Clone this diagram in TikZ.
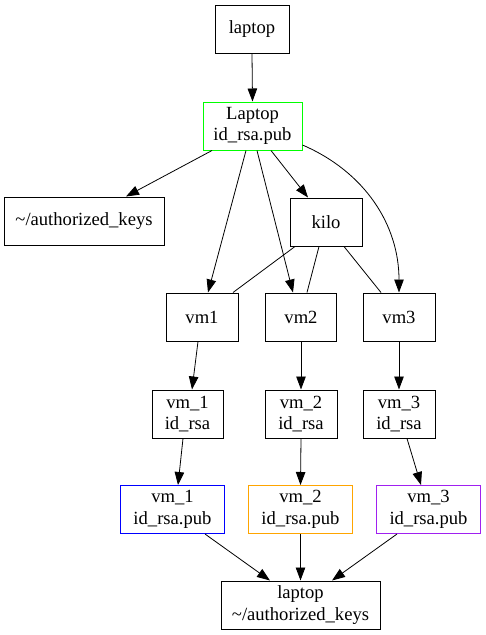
\documentclass[tikz,border=0pt]{standalone}
\usepackage{fontspec}
\setmainfont{Liberation Serif}
\definecolor{keygreen}{RGB}{0,255,0}
\definecolor{keyblue}{RGB}{0,0,255}
\definecolor{keyorange}{RGB}{255,165,0}
\definecolor{keypurple}{RGB}{160,32,240}
\usetikzlibrary{arrows.meta,calc}

\begin{document}
\begin{tikzpicture}[
  x=1pt, y=-1pt,
  >={Triangle[length=13pt,width=9.5pt]},
  line width=0.8pt,
  box/.style={draw, line width=1pt, minimum height=48pt, inner sep=0pt, align=center, font=\fontsize{18.6}{21.5}\selectfont},
  edge/.style={->, line width=0.8pt}
]
\useasboundingbox (0,0) rectangle (486,635);

\node[box, minimum width=74pt] (laptop) at (252,29) {laptop};
\node[box, draw=keygreen, minimum width=99pt] (lpub) at (252.5,126) {Laptop\\id\_rsa.pub};
\node[box, minimum width=160pt] (akeys) at (84,221) {\textasciitilde/authorized\_keys};
\node[box, minimum width=72pt] (kilo) at (326,222) {kilo};

\node[box, minimum width=72pt] (vm1) at (202,317) {vm1};
\node[box, minimum width=71pt] (vm2) at (301,317) {vm2};
\node[box, minimum width=72pt] (vm3) at (399,317) {vm3};

\node[box, minimum width=71pt] (vm1key) at (187.5,414) {vm\_1\\id\_rsa};
\node[box, minimum width=72pt] (vm2key) at (301,414) {vm\_2\\id\_rsa};
\node[box, minimum width=72pt] (vm3key) at (399,414) {vm\_3\\id\_rsa};

\node[box, draw=keyblue, minimum width=104pt] (vm1pub) at (172.5,509.5) {vm\_1\\id\_rsa.pub};
\node[box, draw=keyorange, minimum width=104pt] (vm2pub) at (300.5,509.5) {vm\_2\\id\_rsa.pub};
\node[box, draw=keypurple, minimum width=104pt] (vm3pub) at (428.5,509.5) {vm\_3\\id\_rsa.pub};

\node[box, minimum width=159pt] (lkeys) at (300.5,605) {laptop\\\textasciitilde/authorized\_keys};

% laptop key goes everywhere
\draw[edge] (laptop.south) -- (lpub.north);
\draw[edge] ([xshift=-40.5pt]lpub.south) -- ([xshift=42pt]akeys.north);
\draw[edge] ([xshift=18.5pt]lpub.south) -- ([xshift=-18pt]kilo.north);
\draw[edge] ([xshift=-6.5pt]lpub.south) -- ([xshift=6pt]vm1.north);
\draw[edge] ([xshift=4.5pt]lpub.south) -- ([xshift=-8pt]vm2.north);
\draw[edge] ([yshift=-19pt]lpub.east) .. controls (365,172) and (399,225) .. (vm3.north);

% kilo links
\draw ([xshift=-31pt]kilo.south) -- ([xshift=31pt]vm1.north);
\draw ([xshift=-7pt]kilo.south) -- ([xshift=6pt]vm2.north);
\draw ([xshift=18pt]kilo.south) -- ([xshift=-18pt]vm3.north);

% vm keys
\draw[edge] ([xshift=-4pt]vm1.south) -- ([xshift=4.5pt]vm1key.north);
\draw[edge] (vm2.south) -- (vm2key.north);
\draw[edge] (vm3.south) -- (vm3key.north);

\draw[edge] ([xshift=-4.5pt]vm1key.south) -- ([xshift=5.5pt]vm1pub.north);
\draw[edge] (vm2key.south) -- (vm2pub.north);
\draw[edge] ([xshift=8pt]vm3key.south) -- ([xshift=-7.5pt]vm3pub.north);

% back to laptop
\draw[edge] ([xshift=32.5pt]vm1pub.south) -- ([xshift=-30.5pt]lkeys.north);
\draw[edge] (vm2pub.south) -- (lkeys.north);
\draw[edge] ([xshift=-31.5pt]vm3pub.south) -- ([xshift=31.5pt]lkeys.north);
\end{tikzpicture}
\end{document}
